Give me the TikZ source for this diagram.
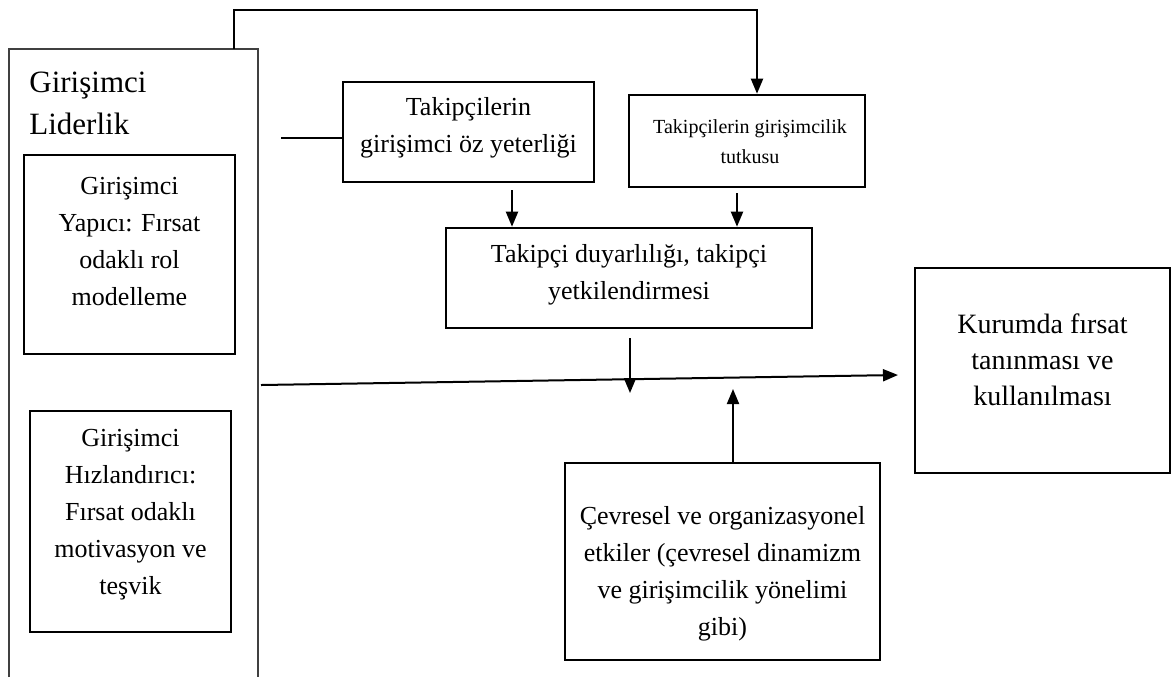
\documentclass[tikz,border=0pt]{standalone}
\usepackage{fontspec}
\setmainfont{Liberation Serif}
\usetikzlibrary{arrows.meta,calc}
\begin{document}
\begin{tikzpicture}[x=0.5pt,y=-0.5pt,
  box/.style={draw, line width=1.3pt, inner sep=0pt},
  sz/.style 2 args={minimum width=#1*0.5pt, minimum height=#2*0.5pt},
  txt/.style={align=center, inner sep=0pt, font=\fontsize{13}{18.5}\selectfont},
  arr/.style={line width=1pt, -{Triangle[length=7.5pt,width=6pt]}},
  ln/.style={line width=1pt}]
\useasboundingbox[fill=white] (0,0) rectangle (1174,677);
% outer frame
\coordinate (obl) at (9,677);
\coordinate (otl) at (9,49);
\coordinate (otr) at (258,49);
\coordinate (obr) at (258,677);
\draw[line width=0.9pt, black!75] (obl) -- (otl) -- (otr) -- (obr);
\node[anchor=north west, inner sep=0pt, align=left, font=\fontsize{15.5}{21}\selectfont] (title) at (29,72) {Girişimci\\Liderlik};
% inner boxes
\node[box, sz={211}{199}] (yap) at (129.5,254.5) {};
\node[txt] (yapt) at (129.5,241.5) {Girişimci\\Yapıcı: Fırsat\\odaklı rol\\modelleme};
\node[box, sz={201}{221}] (hiz) at (130.5,521.5) {};
\node[txt] (hizt) at (130.5,515) {Girişimci\\Hızlandırıcı:\\Fırsat odaklı\\motivasyon ve\\teşvik};
% top boxes
\node[box, sz={251}{100}] (b1) at (468.5,132) {};
\node[txt] (b1t) at (468.5,128) {Takipçilerin\\girişimci öz yeterliği};
\node[box, sz={236}{92}] (b2) at (747,141) {};
\node[txt, font=\fontsize{10}{15}\selectfont] (b2t) at (750,142) {Takipçilerin girişimcilik\\tutkusu};
\node[box, sz={366}{100}] (b3) at (629,278) {};
\node[txt] (b3t) at (629,275) {Takipçi duyarlılığı, takipçi\\yetkilendirmesi};
\node[box, sz={315}{197}] (b4) at (722.5,561.5) {};
\node[txt] (b4t) at (722.5,574) {Çevresel ve organizasyonel\\etkiler (çevresel dinamizm\\ve girişimcilik yönelimi\\gibi)};
\node[box, sz={255}{205}] (b5) at (1042.5,370.5) {};
\node[txt, font=\fontsize{14}{18}\selectfont] (b5t) at (1042.5,360) {Kurumda fırsat\\tanınması ve\\kullanılması};
% connectors
\coordinate (otc) at (234,49);
\coordinate (topc) at (757,10);
\draw[arr] (otc) |- (topc) -- (b2.north -| topc);
\coordinate (lstart) at (281,138);
\draw[ln] (lstart) -- (lstart -| b1.west);
\coordinate (x1) at (512,190);
\draw[arr] (x1) -- (b3.north -| x1);
\coordinate (x2) at (737,193);
\draw[arr] (x2) -- (b3.north -| x2);
\coordinate (x3) at (630,338);
\coordinate (x3e) at (630,393);
\draw[arr] (x3) -- (x3e);
\coordinate (hstart) at (261,385);
\coordinate (hend) at (898,375);
\draw[arr] (hstart) -- (hend);
\coordinate (x4) at (733,389);
\draw[arr] (b4.north -| x4) -- (x4);
\end{tikzpicture}
\end{document}
